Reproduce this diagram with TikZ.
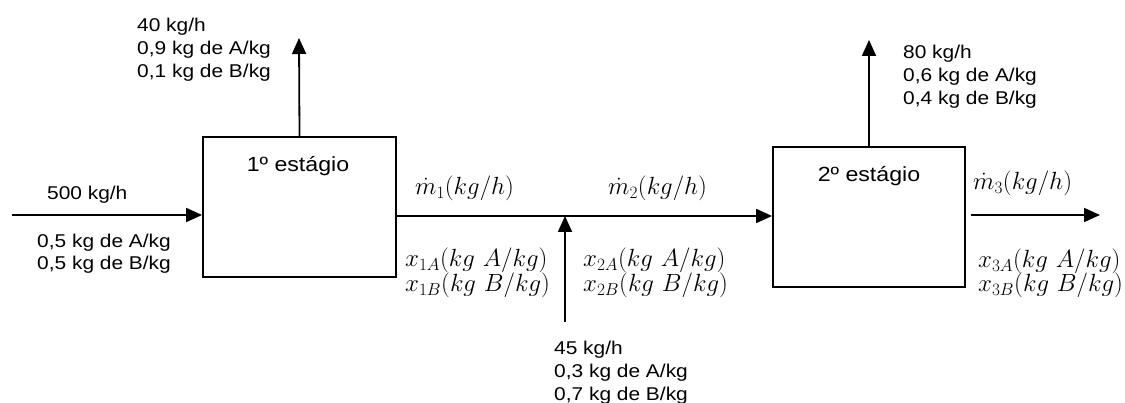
\documentclass[tikz,border=0pt]{standalone}
\usepackage{fontspec}
\setmainfont{Liberation Sans}[FakeStretch=1.13]
\usetikzlibrary{arrows.meta}
\tikzset{
  flow/.style={line width=1.8pt, -{Triangle[length=16pt,width=14pt]}},
  pipe/.style={line width=1.8pt},
  stage/.style={draw, line width=1.8pt, rectangle, inner sep=0pt},
  txt/.style={inner sep=0pt, align=left, font=\fontsize{18.5}{23}\selectfont},
  stagetxt/.style={inner sep=0pt, anchor=base, font=\fontsize{20.5}{24}\selectfont},
  mth/.style={inner sep=0pt, anchor=base west, font=\fontsize{25}{25}\selectfont},
}
\begin{document}
\begin{tikzpicture}[x=1pt,y=-1pt]
\useasboundingbox (0,0) rectangle (1125,403);

% process units
\node[stage, minimum width=193pt, minimum height=140pt] (s1) at (299.5,207) {};
\node[stage, minimum width=192pt, minimum height=140pt] (s2) at (869,217) {};
\node[stagetxt] (t1) at (298,172) {1º estágio};
\node[stagetxt] (t2) at (869,182) {2º estágio};

% stream end points
\coordinate (feed) at (12,215);
\coordinate (top1) at (299,38);
\coordinate (top2) at (869,40);
\coordinate (mix) at (565,216);
\coordinate (side) at (565,322);
\coordinate (p3a) at (971,215);
\coordinate (p3b) at (1100,215);

% streams
\draw[flow] (feed) -- (feed -| s1.west);
\draw[flow] (s1.north) -- (top1);
\draw[pipe] (s1.east |- mix) -- (mix);
\draw[flow] (mix) -- (mix -| s2.west);
\draw[flow] (side) -- (mix);
\draw[flow] (s2.north) -- (top2);
\draw[flow] (p3a) -- (p3b);

% stream data (base anchor sits on the last line)
\node[txt, anchor=base west] (d1) at (137,78) {40 kg/h\\0,9 kg de A/kg\\0,1 kg de B/kg};
\node[txt, anchor=base west] (d0) at (47,200) {500 kg/h};
\node[txt, anchor=base west, font=\fontsize{18.5}{22}\selectfont] (d0b) at (37,270) {0,5 kg de A/kg\\0,5 kg de B/kg};
\node[txt, anchor=base west] (d2) at (903,105) {80 kg/h\\0,6 kg de A/kg\\0,4 kg de B/kg};
\node[txt, anchor=base west] (d3) at (554,400) {45 kg/h\\0,3 kg de A/kg\\0,7 kg de B/kg};

% unknown streams
\node[mth] (m1) at (415,195) {$\dot m_1(kg/h)$};
\node[mth] (m2) at (608,195) {$\dot m_2(kg/h)$};
\node[mth] (m3) at (973,190) {$\dot m_3(kg/h)$};
\node[mth] (x1a) at (405,267) {$x_{1A}(kg\ A/kg)$};
\node[mth] (x1b) at (405,292) {$x_{1B}(kg\ B/kg)$};
\node[mth] (x2a) at (583,267) {$x_{2A}(kg\ A/kg)$};
\node[mth] (x2b) at (583,292) {$x_{2B}(kg\ B/kg)$};
\node[mth] (x3a) at (978,268) {$x_{3A}(kg\ A/kg)$};
\node[mth] (x3b) at (978,292) {$x_{3B}(kg\ B/kg)$};
\end{tikzpicture}
\end{document}
